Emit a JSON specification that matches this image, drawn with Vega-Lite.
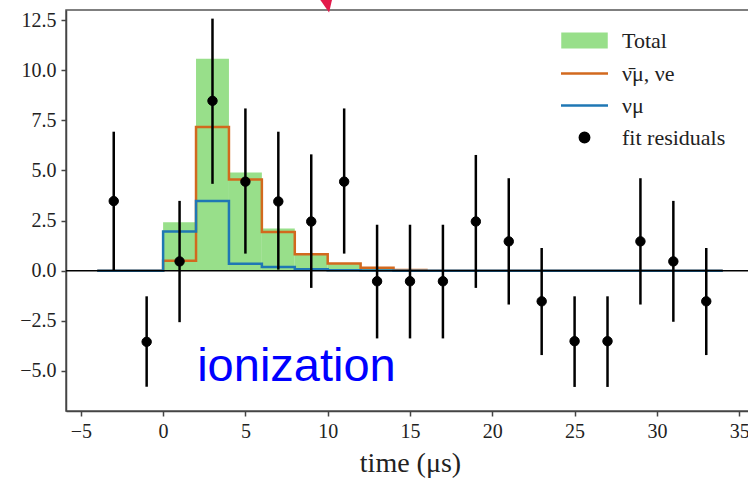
{
  "$schema": "https://vega.github.io/schema/vega-lite/v6.json",
  "width": 688,
  "height": 401,
  "autosize": {"type": "none"},
  "padding": {"left": 66, "top": 10, "right": 0, "bottom": 69},
  "background": "white",
  "config": {
    "view": {"stroke": "#555", "strokeWidth": 1.5},
    "axis": {
      "grid": false,
      "domainColor": "#444",
      "domainWidth": 1.5,
      "tickColor": "#444",
      "tickWidth": 1.5,
      "tickSize": 5,
      "labelFont": "Liberation Serif",
      "labelFontSize": 20,
      "labelColor": "#222",
      "titleFont": "Liberation Serif",
      "titleFontSize": 28,
      "titleFontWeight": "normal",
      "titleColor": "#222"
    },
    "legend": {
      "orient": "none",
      "legendX": 507,
      "legendY": 19,
      "padding": 0,
      "symbolSize": 400,
      "labelOffset": 26,
      "rowPadding": 9,
      "labelFont": "Liberation Serif",
      "labelFontSize": 22,
      "labelColor": "#222",
      "labelLimit": 300,
      "symbolStrokeWidth": 2.5
    }
  },
  "datasets": {
    "hist": [
      {"edge": -4, "end": -2, "total": 0, "nubar": 0, "numu": 0},
      {"edge": -2, "end": 0, "total": 0, "nubar": 0, "numu": 0},
      {"edge": 0, "end": 2, "total": 2.42, "nubar": 0.5, "numu": 1.95},
      {"edge": 2, "end": 4, "total": 10.57, "nubar": 7.16, "numu": 3.47},
      {"edge": 4, "end": 6, "total": 4.89, "nubar": 4.55, "numu": 0.35},
      {"edge": 6, "end": 8, "total": 2.1, "nubar": 1.93, "numu": 0.18},
      {"edge": 8, "end": 10, "total": 0.88, "nubar": 0.82, "numu": 0.07},
      {"edge": 10, "end": 12, "total": 0.37, "nubar": 0.36, "numu": 0.02},
      {"edge": 12, "end": 14, "total": 0.15, "nubar": 0.15, "numu": 0.01},
      {"edge": 14, "end": 16, "total": 0.03, "nubar": 0.03, "numu": 0},
      {"edge": 16, "end": 18, "total": 0, "nubar": 0, "numu": 0},
      {"edge": 18, "end": 20, "total": 0, "nubar": 0, "numu": 0},
      {"edge": 20, "end": 22, "total": 0, "nubar": 0, "numu": 0},
      {"edge": 22, "end": 24, "total": 0, "nubar": 0, "numu": 0},
      {"edge": 24, "end": 26, "total": 0, "nubar": 0, "numu": 0},
      {"edge": 26, "end": 28, "total": 0, "nubar": 0, "numu": 0},
      {"edge": 28, "end": 30, "total": 0, "nubar": 0, "numu": 0},
      {"edge": 30, "end": 32, "total": 0, "nubar": 0, "numu": 0},
      {"edge": 32, "end": 34, "total": 0, "nubar": 0, "numu": 0},
      {"edge": 34, "end": 34, "total": 0, "nubar": 0, "numu": 0}
    ],
    "pts": [
      {"t": -3, "r": 3.47, "lo": 0.0, "hi": 6.93, "series": "fit residuals"},
      {"t": -1, "r": -3.55, "lo": -5.79, "hi": -1.28, "series": "fit residuals"},
      {"t": 1, "r": 0.46, "lo": -2.57, "hi": 3.48, "series": "fit residuals"},
      {"t": 3, "r": 8.47, "lo": 4.33, "hi": 12.57, "series": "fit residuals"},
      {"t": 5, "r": 4.44, "lo": 0.85, "hi": 8.09, "series": "fit residuals"},
      {"t": 7, "r": 3.45, "lo": 0.05, "hi": 6.93, "series": "fit residuals"},
      {"t": 9, "r": 2.45, "lo": -0.86, "hi": 5.8, "series": "fit residuals"},
      {"t": 11, "r": 4.44, "lo": 0.85, "hi": 8.09, "series": "fit residuals"},
      {"t": 13, "r": -0.53, "lo": -3.38, "hi": 2.29, "series": "fit residuals"},
      {"t": 15, "r": -0.53, "lo": -3.38, "hi": 2.29, "series": "fit residuals"},
      {"t": 17, "r": -0.53, "lo": -3.38, "hi": 2.29, "series": "fit residuals"},
      {"t": 19, "r": 2.45, "lo": -0.86, "hi": 5.77, "series": "fit residuals"},
      {"t": 21, "r": 1.46, "lo": -1.69, "hi": 4.61, "series": "fit residuals"},
      {"t": 23, "r": -1.53, "lo": -4.21, "hi": 1.13, "series": "fit residuals"},
      {"t": 25, "r": -3.52, "lo": -5.8, "hi": -1.28, "series": "fit residuals"},
      {"t": 27, "r": -3.52, "lo": -5.8, "hi": -1.28, "series": "fit residuals"},
      {"t": 29, "r": 1.46, "lo": -1.69, "hi": 4.61, "series": "fit residuals"},
      {"t": 31, "r": 0.46, "lo": -2.55, "hi": 3.48, "series": "fit residuals"},
      {"t": 33, "r": -1.53, "lo": -4.21, "hi": 1.13, "series": "fit residuals"}
    ],
    "zero": [{"y0": 0}],
    "note": [{"t": 2.07, "y": -5.52, "text": "ionization"}],
    "arrow": [{"t": 9.84, "y": 13.28}]
  },
  "layer": [
    {
      "data": {"name": "hist"},
      "mark": {"type": "rect", "color": "#98df8a"},
      "encoding": {
        "x": {"field": "edge", "type": "quantitative", "title": "time (μs)",
              "scale": {"domain": [-5.9, 35.9], "nice": false, "zero": false},
              "axis": {"values": [-5, 0, 5, 10, 15, 20, 25, 30, 35], "format": "d", "labelPadding": 5, "titlePadding": 8}},
        "x2": {"field": "end"},
        "y": {"field": "total", "type": "quantitative", "title": null,
              "scale": {"domain": [-7, 13], "nice": false, "zero": false},
              "axis": {"values": [-5, -2.5, 0, 2.5, 5, 7.5, 10, 12.5], "format": ".1f", "labelPadding": 5}},
        "y2": {"datum": 0}
      }
    },
    {
      "data": {"name": "hist"},
      "mark": {"type": "line", "interpolate": "step-after", "color": "#d2691e", "strokeWidth": 2.5},
      "encoding": {
        "x": {"field": "edge", "type": "quantitative", "title": "time (μs)"},
        "y": {"field": "nubar", "type": "quantitative", "title": null}
      }
    },
    {
      "data": {"name": "hist"},
      "mark": {"type": "line", "interpolate": "step-after", "color": "#1f77b4", "strokeWidth": 2.5},
      "encoding": {
        "x": {"field": "edge", "type": "quantitative", "title": "time (μs)"},
        "y": {"field": "numu", "type": "quantitative", "title": null}
      }
    },
    {
      "data": {"name": "zero"},
      "mark": {"type": "rule", "color": "#000000", "strokeWidth": 1.5},
      "encoding": {"y": {"field": "y0", "type": "quantitative", "title": null}}
    },
    {
      "data": {"name": "pts"},
      "mark": {"type": "rule", "color": "#000000", "strokeWidth": 2.5},
      "encoding": {
        "x": {"field": "t", "type": "quantitative", "title": "time (μs)"},
        "y": {"field": "lo", "type": "quantitative", "title": null},
        "y2": {"field": "hi"}
      }
    },
    {
      "data": {"name": "pts"},
      "mark": {"type": "point", "opacity": 1, "size": 400, "strokeWidth": 1},
      "encoding": {
        "x": {"field": "t", "type": "quantitative", "title": "time (μs)"},
        "y": {"field": "r", "type": "quantitative", "title": null},
        "fill": {"field": "series", "type": "nominal",
          "scale": {"domain": ["Total", "ν̄μ, νe", "νμ", "fit residuals"],
                    "range": ["#98df8a", "#d2691e", "#1f77b4", "#000000"]},
          "legend": {"title": null, "symbolStrokeWidth": 2.5}},
        "stroke": {"field": "series", "type": "nominal",
          "scale": {"domain": ["Total", "ν̄μ, νe", "νμ", "fit residuals"],
                    "range": ["#98df8a", "#d2691e", "#1f77b4", "#000000"]},
          "legend": {"title": null, "symbolStrokeWidth": 2.5}},
        "shape": {"field": "series", "type": "nominal",
          "scale": {"domain": ["Total", "ν̄μ, νe", "νμ", "fit residuals"],
                    "range": ["M-2.2,-0.68H2.2V0.68H-2.2Z", "M-2.35,0H2.35", "M-2.35,0H2.35", "M-0.47,0A0.47,0.47 0 1,1 0.47,0A0.47,0.47 0 1,1 -0.47,0Z"]},
          "legend": {"title": null, "symbolStrokeWidth": 2.5}}
      }
    },
    {
      "data": {"name": "note"},
      "mark": {"type": "text", "align": "left", "baseline": "alphabetic", "font": "Liberation Sans", "fontSize": 47, "color": "#0000ff"},
      "encoding": {
        "x": {"field": "t", "type": "quantitative"},
        "y": {"field": "y", "type": "quantitative"},
        "text": {"field": "text"}
      }
    },
    {
      "data": {"name": "arrow"},
      "mark": {"type": "point", "filled": true, "opacity": 1, "size": 400, "color": "#e31a4b",
               "shape": "M0.4,0.8L-0.8,-0.9L0.8,-0.9Z"},
      "encoding": {
        "x": {"field": "t", "type": "quantitative"},
        "y": {"field": "y", "type": "quantitative"}
      }
    }
  ]
}
